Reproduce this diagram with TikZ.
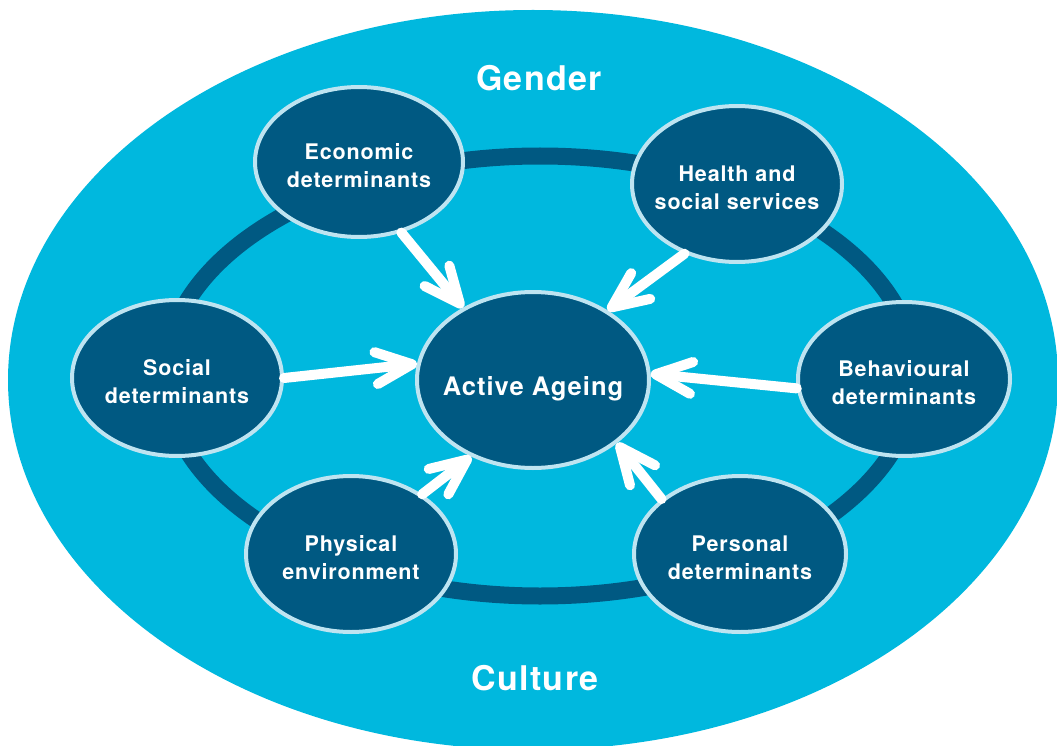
\documentclass[tikz,border=0pt]{standalone}
\usepackage{fontspec}
\setmainfont{TeX Gyre Heros}[LetterSpace=4]
\usetikzlibrary{shapes.geometric,arrows.meta}
\definecolor{agecyan}{RGB}{0,184,222}
\definecolor{agenavy}{RGB}{0,89,130}
\definecolor{ageedge}{RGB}{190,228,241}
\newcommand{\twolines}[2]{\raisebox{-11pt}[0pt][0pt]{\makebox[0pt]{\begin{tabular}{@{}c@{}}#1\\#2\end{tabular}}}}

\begin{document}
\begin{tikzpicture}[x=1pt, y=-1pt,
  det/.style={ellipse, draw=ageedge, line width=4pt, fill=agenavy, text=white,
    minimum width=210pt, minimum height=156pt, inner sep=0pt,
    font={\bfseries\fontsize{21.5}{28}\selectfont}},
  hub/.style={det, minimum width=232pt, minimum height=176pt,
    font={\bfseries\fontsize{25.5}{30}\selectfont}},
  flow/.style={white, line width=10pt, line cap=round,
    -{Straight Barb[length=36pt, width=32pt, round]}},
  ringlabel/.style={text=white, font={\bfseries\fontsize{34}{40}\selectfont}}]
\useasboundingbox (0,0) rectangle (1057,746);
\clip (0,0) rectangle (1057,746);

% OUTER FIELD AND RING
\fill[agecyan] (533,380) ellipse [x radius=525, y radius=370];
\draw[agenavy, line width=17pt] (540,376) ellipse [x radius=375, y radius=220];

\node[ringlabel] (gender) at (539,78) {Gender};
\node[ringlabel] (culture) at (535,678) {Culture};

% CENTRE
\node[hub] (active) at (533,380) {\raisebox{-15pt}[0pt][0pt]{\makebox[0pt]{Active Ageing}}};

% DETERMINANTS
\node[det, minimum width=208pt, minimum height=150pt] (econ) at (359,162) {\twolines{Economic}{determinants}};
\node[det] (health) at (737,184) {\twolines{Health and}{social services}};
\node[det] (social) at (177,378) {\twolines{Social}{determinants}};
\node[det, minimum width=212pt, minimum height=154pt] (behav) at (904,379) {\twolines{Behavioural}{determinants}};
\node[det] (phys) at (351,554) {\twolines{Physical}{environment}};
\node[det, minimum width=212pt] (pers) at (740,554) {\twolines{Personal}{determinants}};

% ARROWS
\draw[flow] (econ.301) -- (active.134);
\draw[flow] (health.233) -- (active.43);
\draw[flow] (social.0) -- (active.172);
\draw[flow] (behav.185) -- (active.3);
\draw[flow] (phys.40) -- (active.231);
\draw[flow] (pers.145) -- (active.323);
\end{tikzpicture}
\end{document}
